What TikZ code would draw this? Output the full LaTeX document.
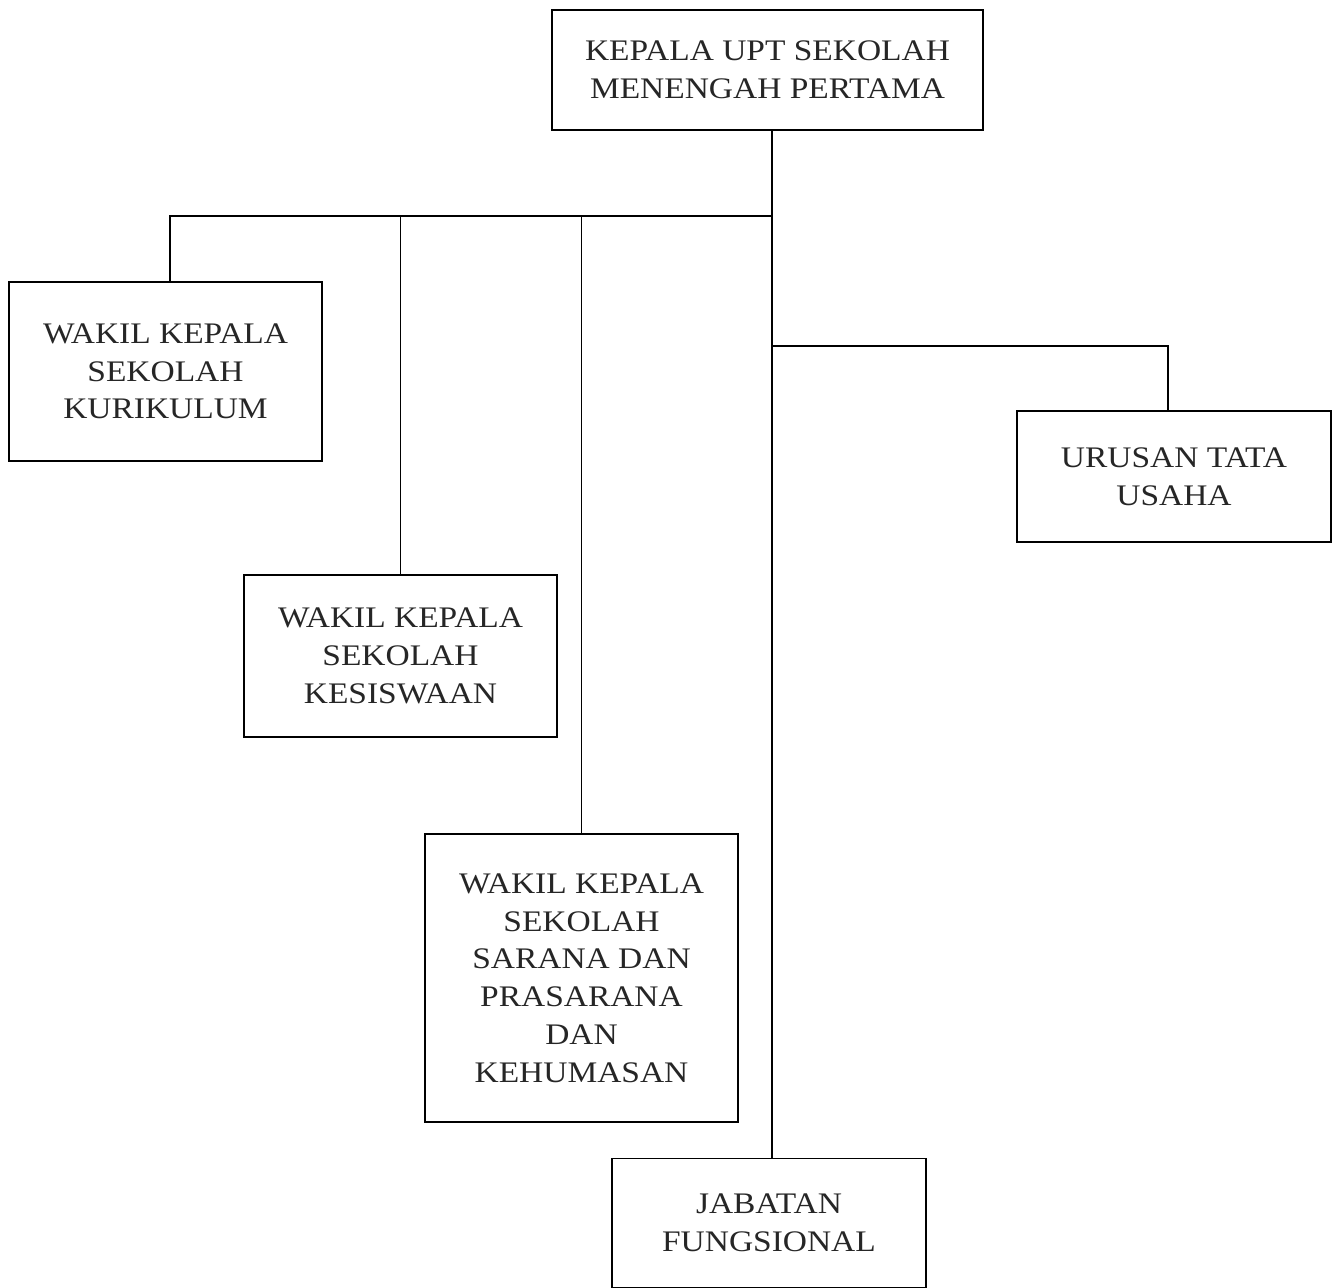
\documentclass[tikz,border=0pt]{standalone}
\usepackage{fontspec}
\setmainfont[FakeStretch=1.12]{Liberation Serif}
\begin{document}
\begin{tikzpicture}[x=0.02cm,y=-0.02cm,
  box/.style={draw=black,line width=1.1pt,align=center,inner sep=0pt,
    font=\fontsize{17}{21.5}\selectfont,text=black!85},
  conn/.style={line width=1.1pt,draw=black}]
\useasboundingbox (0,0) rectangle (1332,1288);
\node[box,minimum width=431*0.02cm,minimum height=120*0.02cm] (top) at (767.5,70) {KEPALA UPT SEKOLAH\\MENENGAH PERTAMA};
\node[box,minimum width=313*0.02cm,minimum height=179*0.02cm] (kur) at (165.5,371.5) {WAKIL KEPALA\\SEKOLAH\\KURIKULUM};
\node[box,minimum width=313*0.02cm,minimum height=162*0.02cm] (kes) at (400.5,656) {WAKIL KEPALA\\SEKOLAH\\KESISWAAN};
\node[box,minimum width=313*0.02cm,minimum height=288*0.02cm] (sar) at (581.5,978) {WAKIL KEPALA\\SEKOLAH\\SARANA DAN\\PRASARANA\\DAN\\KEHUMASAN};
\node[box,minimum width=314*0.02cm,minimum height=131*0.02cm] (tu) at (1174,476.5) {URUSAN TATA\\USAHA};
\node[box,minimum width=314*0.02cm,minimum height=129*0.02cm] (jab) at (769,1223) {JABATAN\\FUNGSIONAL};
\coordinate (t1) at (772,216);
\coordinate (t2) at (772,346);
\coordinate (dk) at (170,216);
\coordinate (dt) at (1168,346);
\draw[conn] (top.south -| t1) -- (jab.north -| t1);
\draw[conn] (t1) -- (dk) -- (kur.north -| dk);
\draw[conn] (kes.north |- t1) -- (kes.north);
\draw[conn] (sar.north |- t1) -- (sar.north);
\draw[conn] (t2) -- (dt) -- (tu.north -| dt);
\end{tikzpicture}
\end{document}
